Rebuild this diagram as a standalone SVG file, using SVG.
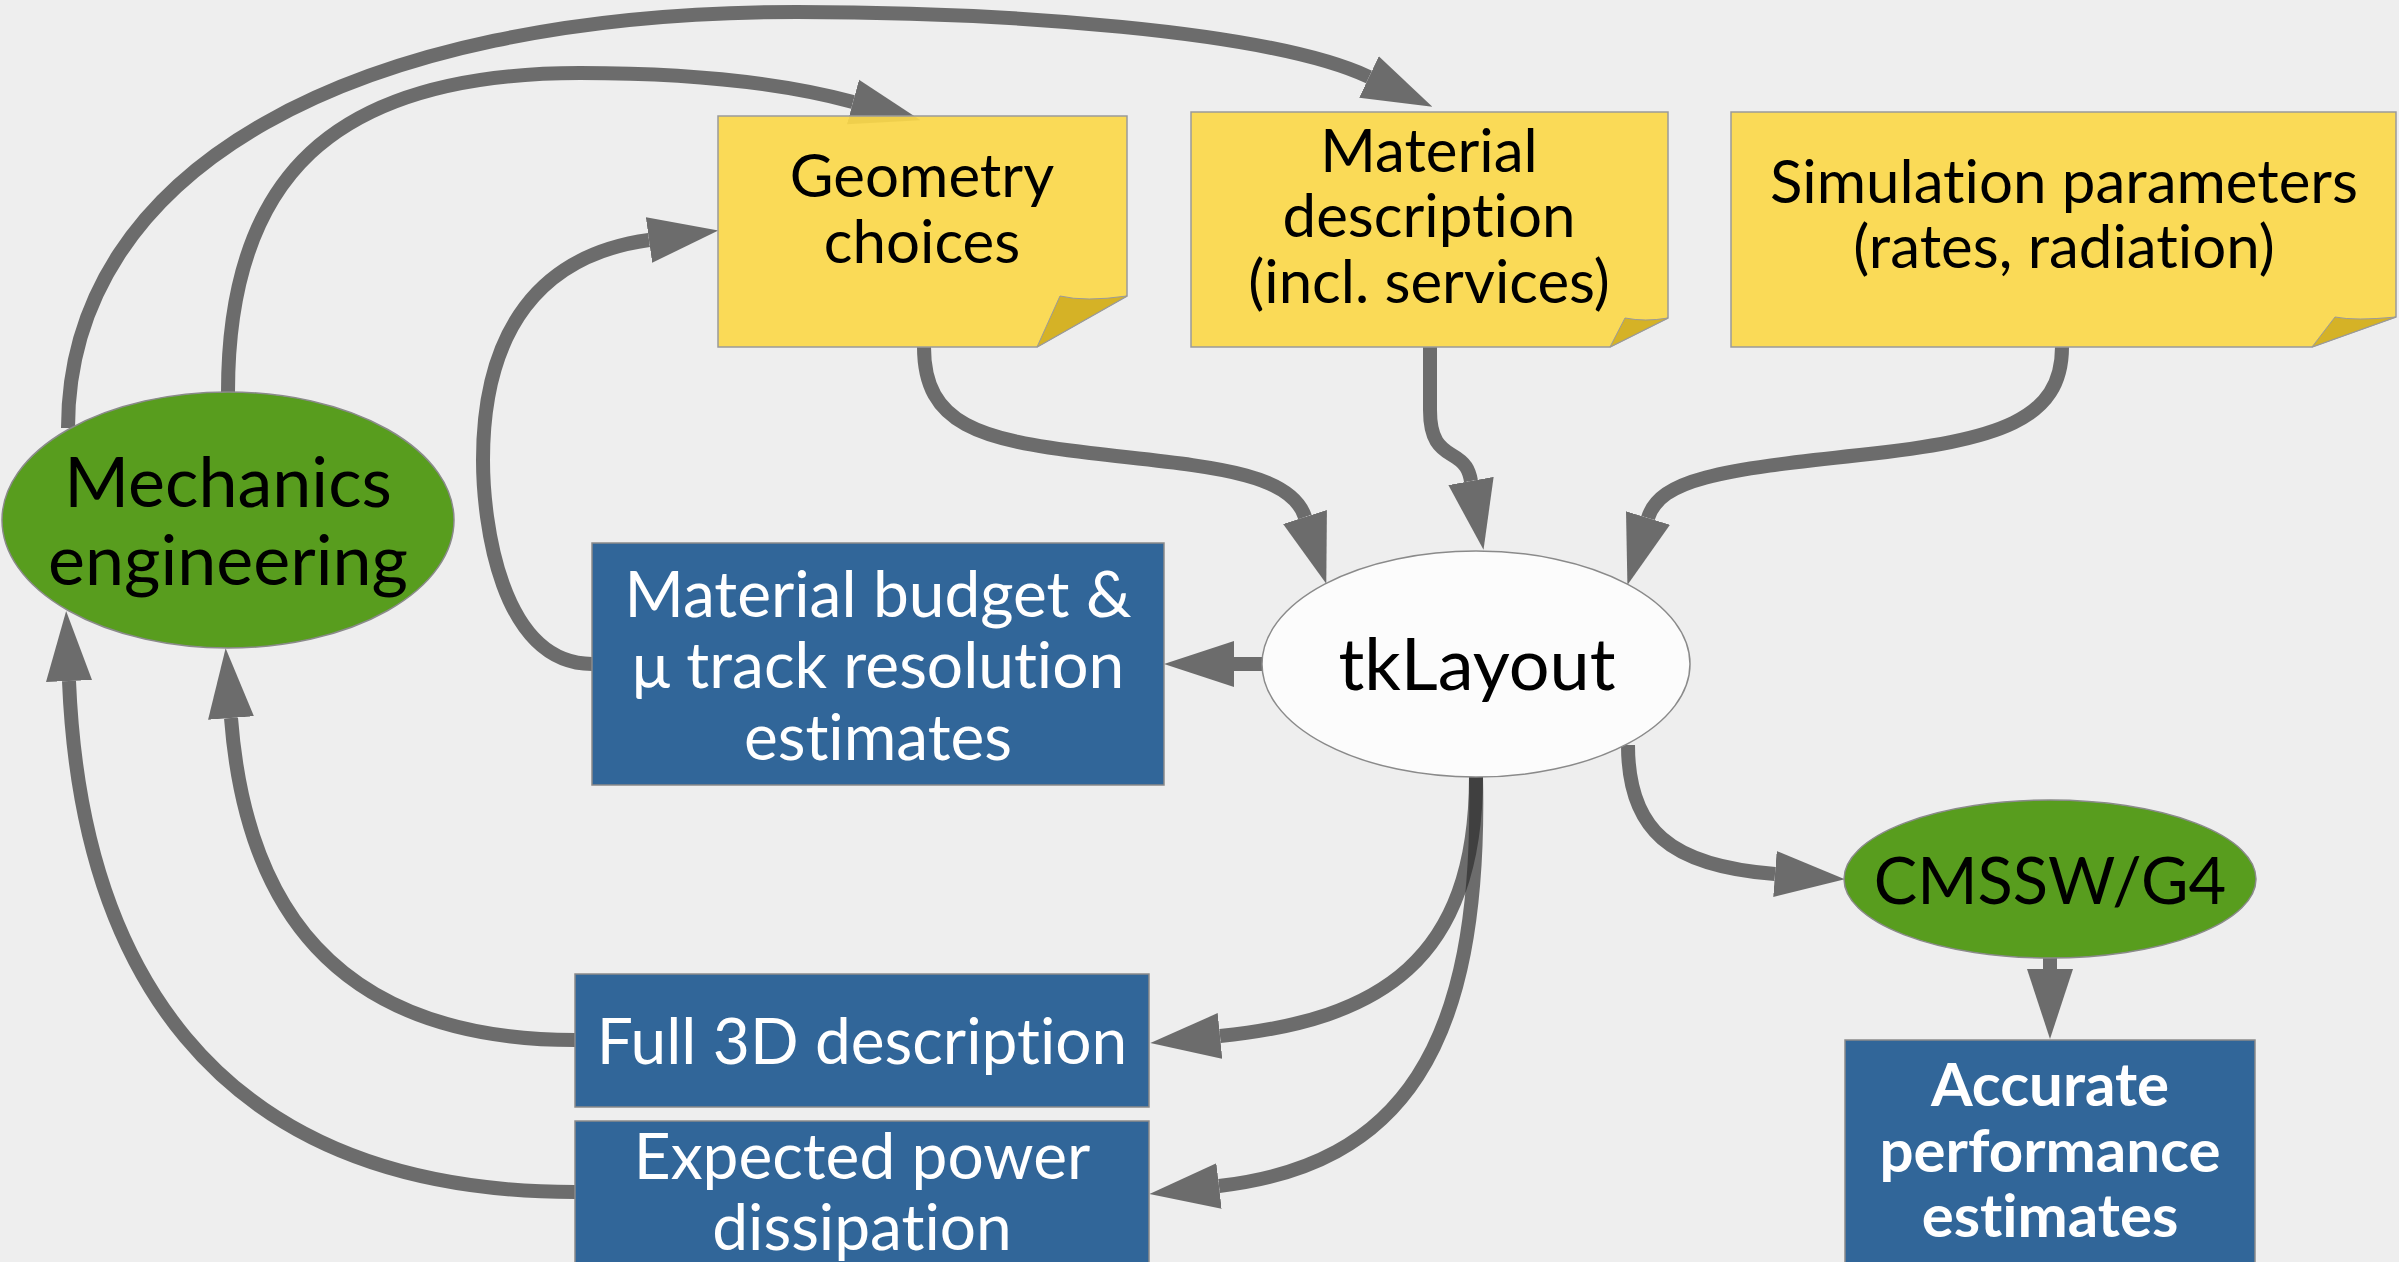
<svg xmlns="http://www.w3.org/2000/svg" width="2399" height="1262" viewBox="0 0 2399 1262">
  <style>
    .note { fill: #fbd84a; fill-opacity: 0.92; stroke: #9a9a9a; stroke-width: 1.5; }
    .fold { fill: #d5b226; stroke: #9a9a9a; stroke-width: 1; }
    .green { fill: #589d1e; stroke: #8a8a8a; stroke-width: 1.5; }
    .blue { fill: #316699; stroke: #8a8a8a; stroke-width: 1.5; }
    .plain { fill: #fcfcfc; stroke: #8a8a8a; stroke-width: 1.5; }
    text { font-family: Lato, "Open Sans", sans-serif; text-anchor: middle; font-variant-ligatures: none; font-feature-settings: "liga" 0, "clig" 0; }
    .dark { fill: #000000; }
    .light { fill: #ffffff; }
    .bold { font-weight: bold; }
    .conn g { opacity: 0.66; }
    .conn path { fill: none; stroke: #2a2a2a; stroke-width: 14; marker-end: url(#ah); }
  </style>
  <defs>
    <marker id="ah" markerUnits="userSpaceOnUse" viewBox="0 0 70 50" markerWidth="70" markerHeight="50" refX="0" refY="25" orient="auto">
      <path d="M0,2 L70,25 L0,48 Z" fill="#2a2a2a"/>
    </marker>
  </defs>

  <rect x="0" y="0" width="2399" height="1262" fill="#eeeeee"/>

  <!-- connectors -->
  <g id="connectors" class="conn">
    <g id="c-mech-matdesc"><path d="M68,428 C68,170 350,12 797,12 C1000,12 1269,30 1369,77"/></g>
    <g id="c-mech-geom"><path d="M228,392 C228,180 330,73 580,73 C700,73 790,85 853,102"/></g>
    <g id="c-budget-geom"><path d="M592,664 C500,664 483,520 483,460 C483,330 540,255 649,240"/></g>
    <g id="c-geom-tk"><path d="M924,347 C924,425 980,440 1090,453 C1200,466 1290,470 1305,517"/></g>
    <g id="c-matdesc-tk"><path d="M1430,347 L1430,410 C1430,440 1440,448 1452,455 C1466,463 1469,470 1471,481"/></g>
    <g id="c-sim-tk"><path d="M2062,347 C2062,420 2000,440 1860,455 C1720,470 1660,479 1648,518"/></g>
    <g id="c-tk-budget"><path d="M1268,664 L1234,664"/></g>
    <g id="c-tk-full3d"><path d="M1476,777 C1476,960 1380,1020 1220,1036"/></g>
    <g id="c-tk-power"><path d="M1476,777 C1482,1050 1400,1165 1219,1186"/></g>
    <g id="c-tk-cmssw"><path d="M1628,745 C1628,830 1670,866 1775,874"/></g>
    <g id="c-cmssw-accurate"><path d="M2050,950 L2050,969"/></g>
    <g id="c-full3d-mech"><path d="M575,1040 C330,1040 245,900 231,718"/></g>
    <g id="c-power-mech"><path d="M575,1192 C200,1192 80,950 69,681"/></g>
  </g>

  <!-- input notes -->
  <g id="geometry">
    <polygon class="note" points="718,116 1127,116 1127,296 1037,347 718,347"/>
    <path class="fold" d="M1037,347 L1060,296 Q1085,302 1127,296 Z"/>
    <text class="dark" x="922" y="197" font-size="60">Geometry</text>
    <text class="dark" x="922" y="263" font-size="60">choices</text>
  </g>

  <g id="material-description">
    <polygon class="note" points="1191,112 1668,112 1668,318 1610,347 1191,347"/>
    <path class="fold" d="M1610,347 L1625,318 Q1645,322 1668,318 Z"/>
    <text class="dark" x="1429" y="172" font-size="60">Material</text>
    <text class="dark" x="1429" y="237" font-size="60">description</text>
    <text class="dark" x="1429" y="303" font-size="60">(incl. services)</text>
  </g>

  <g id="simulation-parameters">
    <polygon class="note" points="1731,112 2396,112 2396,317 2312,347 1731,347"/>
    <path class="fold" d="M2312,347 L2335,317 Q2355,321 2396,317 Z"/>
    <text class="dark" x="2064" y="203" font-size="60">Simulation parameters</text>
    <text class="dark" x="2064" y="268" font-size="60">(rates, radiation)</text>
  </g>

  <!-- actors and tools -->
  <g id="mechanics">
    <ellipse class="green" cx="228" cy="520" rx="226" ry="128"/>
    <text class="dark" x="228" y="507" font-size="70">Mechanics</text>
    <text class="dark" x="228" y="585" font-size="70">engineering</text>
  </g>

  <g id="tklayout">
    <ellipse class="plain" cx="1476" cy="664" rx="214" ry="113"/>
    <text class="dark" x="1477" y="690" font-size="72">tkLayout</text>
  </g>

  <g id="cmssw">
    <ellipse class="green" cx="2050" cy="879" rx="206" ry="79"/>
    <text class="dark" x="2050" y="904" font-size="65">CMSSW/G4</text>
  </g>

  <!-- outputs -->
  <g id="material-budget">
    <rect class="blue" x="592" y="543" width="572" height="242"/>
    <text class="light" x="878" y="617" font-size="64">Material budget &amp;</text>
    <text class="light" x="878" y="688" font-size="64">μ track resolution</text>
    <text class="light" x="878" y="760" font-size="64">estimates</text>
  </g>

  <g id="full-3d">
    <rect class="blue" x="575" y="974" width="574" height="133"/>
    <text class="light" x="862" y="1064" font-size="64">Full 3D description</text>
  </g>

  <g id="power">
    <rect class="blue" x="575" y="1121" width="574" height="160"/>
    <text class="light" x="862" y="1179" font-size="64">Expected power</text>
    <text class="light" x="862" y="1250" font-size="64">dissipation</text>
  </g>

  <g id="accurate">
    <rect class="blue" x="1845" y="1040" width="410" height="240"/>
    <text class="light bold" x="2050" y="1106" font-size="60">Accurate</text>
    <text class="light bold" x="2050" y="1172" font-size="60">performance</text>
    <text class="light bold" x="2050" y="1237" font-size="60">estimates</text>
  </g>
</svg>
